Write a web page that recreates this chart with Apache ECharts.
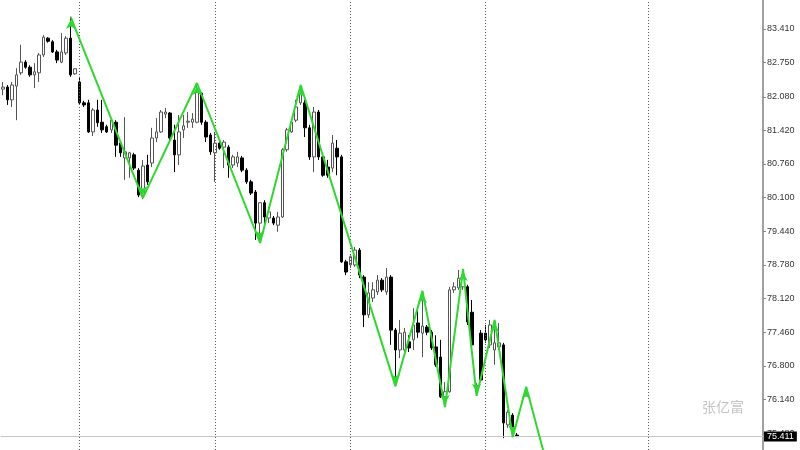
<!DOCTYPE html>
<html>
<head>
<meta charset="utf-8">
<script src="https://cdn.jsdelivr.net/npm/echarts@6/dist/echarts.min.js"></script>
<style>
  html, body { margin: 0; padding: 0; background: #fff; }
  #main { width: 800px; height: 450px; }
</style>
</head>
<body>
<div id="main"></div>
<script>
// bar slots on the time axis (data ends early, chart is shifted left)
var categories = Array.from({ length: 169 }, function (_, i) { return String(i); });

// [open, close, low, high]
var candles = [
  [82.23, 82.27, 82.11, 82.37], [82.27, 82.02, 81.92, 82.31], [82.02, 82.31, 81.88, 82.37],
  [82.29, 82.51, 81.62, 82.64], [82.55, 82.76, 82.51, 83.10], [82.76, 82.66, 82.63, 82.80],
  [82.66, 82.51, 82.47, 82.70], [82.51, 82.57, 82.25, 82.74], [82.55, 82.90, 82.37, 82.94],
  [82.90, 83.25, 82.86, 83.29], [83.23, 83.17, 83.14, 83.25], [83.16, 82.96, 82.94, 83.19],
  [82.96, 82.80, 82.74, 83.00], [82.76, 82.96, 82.74, 83.33], [82.94, 83.23, 82.90, 83.27],
  [83.23, 82.51, 82.47, 83.65], [82.53, 82.63, 82.51, 82.64], [82.37, 81.96, 81.92, 82.47],
  [81.96, 81.92, 81.88, 82.00], [81.96, 81.39, 81.37, 82.02], [81.39, 81.82, 81.31, 81.86],
  [81.82, 81.57, 81.49, 82.02], [81.58, 81.43, 81.37, 82.02], [81.49, 81.39, 81.37, 81.53],
  [81.43, 81.62, 81.37, 81.66], [81.58, 81.13, 80.90, 81.62], [81.17, 80.98, 80.90, 81.19],
  [80.88, 81.00, 80.45, 81.68], [80.88, 80.98, 80.49, 81.00], [80.94, 80.68, 80.64, 80.98],
  [80.64, 80.15, 80.11, 80.68], [80.15, 80.72, 80.07, 80.84], [80.74, 80.41, 80.35, 80.94],
  [80.78, 81.27, 80.70, 81.47], [81.27, 81.39, 81.19, 81.66], [81.39, 81.78, 81.37, 81.82],
  [81.74, 81.78, 81.66, 81.86], [81.76, 81.27, 81.23, 81.78], [81.23, 80.94, 80.60, 81.53],
  [80.94, 81.39, 80.74, 81.72], [81.43, 81.51, 81.27, 81.72], [81.58, 81.60, 81.47, 81.78],
  [81.58, 81.64, 81.47, 81.76], [81.58, 82.17, 81.56, 82.35], [82.15, 81.58, 81.53, 82.17],
  [81.58, 81.29, 81.19, 81.62], [81.33, 81.00, 80.94, 81.37], [80.98, 81.17, 80.41, 81.39],
  [81.17, 81.07, 81.04, 81.21], [81.09, 81.19, 80.68, 81.23], [81.09, 80.74, 80.49, 81.13],
  [80.74, 80.90, 80.68, 80.94], [80.78, 80.90, 80.70, 81.00], [80.88, 80.64, 80.60, 80.92],
  [80.64, 80.41, 80.37, 80.68], [80.41, 80.19, 80.15, 80.45], [80.21, 79.60, 79.27, 80.25],
  [79.60, 80.00, 79.21, 80.01], [80.00, 79.72, 79.56, 80.05], [79.70, 79.82, 79.60, 79.92],
  [79.70, 79.60, 79.56, 79.74], [79.56, 79.72, 79.43, 79.82], [79.72, 81.04, 79.70, 81.07],
  [81.04, 81.43, 81.00, 81.47], [81.39, 81.58, 81.37, 81.62], [81.62, 81.88, 81.58, 82.02],
  [81.96, 82.15, 81.92, 82.31], [81.96, 81.47, 81.29, 82.02], [81.47, 80.90, 80.84, 81.53],
  [80.90, 81.78, 80.60, 81.88], [81.78, 80.90, 80.84, 81.82], [80.90, 80.54, 80.51, 80.94],
  [80.70, 80.54, 80.49, 80.84], [80.68, 81.17, 80.60, 81.33], [81.07, 80.90, 80.54, 81.23],
  [80.90, 78.84, 78.82, 80.94], [78.84, 78.64, 78.58, 78.88], [78.78, 78.94, 78.72, 78.97],
  [78.78, 79.07, 78.74, 79.13], [79.07, 78.58, 78.52, 79.11], [78.54, 77.80, 77.56, 78.58],
  [77.80, 78.23, 77.74, 78.44], [78.13, 78.29, 78.05, 78.44], [78.25, 78.48, 78.19, 78.58],
  [78.48, 78.29, 78.25, 78.52], [78.25, 78.54, 78.19, 78.72], [78.54, 77.50, 77.21, 78.58],
  [77.50, 77.11, 76.40, 77.54], [77.11, 77.44, 76.95, 77.70], [77.11, 77.46, 77.01, 77.54],
  [77.27, 77.15, 77.07, 77.40], [77.31, 77.60, 77.11, 77.93], [77.64, 77.46, 77.35, 77.93],
  [77.44, 77.58, 76.97, 78.27], [77.56, 77.46, 77.40, 77.60], [77.46, 77.15, 77.11, 77.50],
  [77.17, 76.82, 76.78, 77.40], [76.97, 76.19, 76.17, 77.31], [76.19, 76.29, 75.99, 76.48],
  [76.29, 78.29, 76.27, 78.35], [78.29, 78.35, 78.23, 78.44], [78.33, 78.52, 78.29, 78.68],
  [78.35, 78.58, 78.29, 78.70], [78.35, 77.66, 77.60, 78.39], [77.85, 77.21, 77.11, 78.09],
  [76.29, 76.42, 76.21, 76.46], [77.44, 76.52, 76.48, 77.50], [77.44, 77.31, 77.25, 77.60],
  [77.21, 77.60, 77.15, 77.70], [77.11, 77.25, 76.82, 77.70], [77.17, 77.25, 77.11, 77.64],
  [77.21, 75.68, 75.38, 77.25], [75.64, 75.89, 75.58, 75.93], [75.83, 75.48, 75.40, 75.87],
  [75.44, 75.41, 75.40, 75.48]
];

// zigzag turning points: [bar index, price]
var zigzag = [
  [15, 83.65], [31, 80.09], [43, 82.35], [57, 79.21], [66, 82.31], [87, 76.40],
  [93, 78.27], [98, 75.99], [102, 78.70], [105, 76.21], [109, 77.70], [113, 75.40],
  [116, 76.39], [120, 75.06]
];

var tickLabels = ['83.410', '82.750', '82.080', '81.420', '80.760', '80.100', '79.440',
  '78.780', '78.120', '77.460', '76.800', '76.140', '75.480'];
var tickValues = tickLabels.map(Number);

var periodSeparators = ['17', '47', '77', '107', '143'];
var lastPrice = 75.411;
var yMin = 75.147, yMax = 83.979;

var chart = echarts.init(document.getElementById('main'));

var separatorLines = periodSeparators.map(function (c) {
  return { xAxis: c, lineStyle: { color: '#555', type: [1, 2], width: 1 }, label: { show: false } };
});

var zigData = zigzag.map(function (p, i) {
  var isHigh = i === 0 ? p[1] > zigzag[1][1] : p[1] > zigzag[i - 1][1];
  return {
    value: p,
    symbolRotate: isHigh ? 0 : 180,
    symbolOffset: isHigh ? [0, 3] : [0, -3]
  };
});

chart.setOption({
  animation: false,
  backgroundColor: '#fff',
  grid: { left: 0.75, right: 37, top: 0, bottom: 0 },
  xAxis: {
    type: 'category',
    data: categories,
    boundaryGap: true,
    axisLine: { show: false },
    axisTick: { show: false },
    axisLabel: { show: false },
    splitLine: { show: false }
  },
  yAxis: {
    type: 'value',
    position: 'right',
    min: yMin,
    max: yMax,
    splitLine: { show: false },
    axisLine: { show: true, lineStyle: { color: '#a0a0a0', width: 2 } },
    axisTick: { show: true, length: 3, customValues: tickValues, lineStyle: { color: '#888' } },
    axisLabel: {
      customValues: tickValues,
      margin: 4,
      color: '#333',
      fontSize: 9,
      fontFamily: 'Liberation Sans, Arial, sans-serif',
      formatter: function (v) { return v.toFixed(3); }
    }
  },
  graphic: [{
    type: 'text',
    left: 702,
    top: 400,
    style: {
      text: '张亿富',
      fill: '#c4c4c4',
      fontSize: 14,
      fontFamily: 'Noto Sans CJK SC'
    }
  }],
  series: [
    {
      type: 'candlestick',
      data: candles,
      barWidth: 3,
      itemStyle: {
        color: '#ffffff',
        color0: '#000000',
        borderColor: '#555555',
        borderColor0: '#000000',
        borderWidth: 1
      },
      markLine: {
        silent: true,
        symbol: ['none', 'none'],
        animation: false,
        data: separatorLines.concat([{
          yAxis: lastPrice,
          lineStyle: { color: '#c8c8c8', type: 'solid', width: 1 },
          label: {
            show: true,
            position: 'end',
            distance: 1,
            formatter: lastPrice.toFixed(3),
            color: '#fff',
            backgroundColor: '#000',
            padding: [1, 3, 0, 3],
            fontSize: 9,
            fontFamily: 'Liberation Sans, Arial, sans-serif'
          }
        }])
      }
    },
    {
      type: 'line',
      data: zigData,
      symbol: 'arrow',
      symbolSize: [7, 9],
      showSymbol: true,
      showAllSymbol: true,
      lineStyle: { color: '#2fd82f', width: 2 },
      itemStyle: { color: '#2fd82f' },
      z: 5
    }
  ]
});
</script>
</body>
</html>
